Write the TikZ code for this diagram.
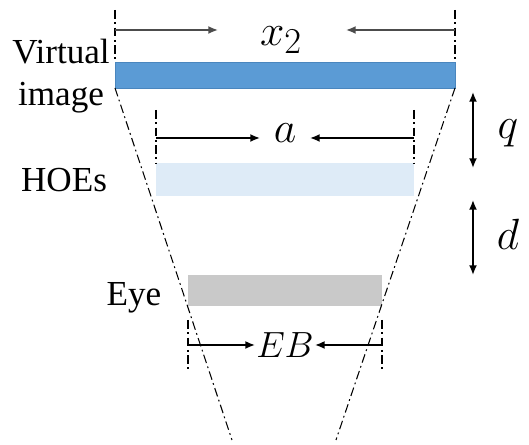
\documentclass[tikz,border=0pt]{standalone}
\usepackage{fontspec}
\setmainfont{Liberation Serif}
\usetikzlibrary{arrows.meta}
\definecolor{vimgblue}{HTML}{5B9BD5}
\definecolor{vimgedge}{HTML}{4A86BE}
\definecolor{hoeblue}{HTML}{DEEBF7}
\definecolor{eyegray}{HTML}{C9C9C9}
\tikzset{
  guide/.style={line width=0.6pt, dash pattern=on 5pt off 2pt on 1pt off 2pt},
  dimarrow/.style={-{Latex[length=5.5pt, width=4.5pt]}, line width=0.9pt},
  gaparrow/.style={{Latex[length=5.5pt, width=4.5pt]}-{Latex[length=5.5pt, width=4.5pt]}, line width=0.9pt},
  lbl/.style={font=\rmfamily\fontsize{20}{24}\selectfont, align=center, inner sep=0pt},
  mlbl/.style={font=\fontsize{30}{33}\selectfont, inner sep=0pt},
}
\begin{document}
\begin{tikzpicture}[x=0.02cm, y=-0.02cm]
        \useasboundingbox (0,0) rectangle (529,445);

        % Bars
        \coordinate (vTL) at (115,62);  \coordinate (vBR) at (455,88);
        \coordinate (hTL) at (156,163); \coordinate (hBR) at (414,196);
        \coordinate (eTL) at (188,275); \coordinate (eBR) at (382,306);
        \filldraw[fill=vimgblue, draw=vimgedge, line width=0.5pt] (vTL) rectangle (vBR);
        \fill[hoeblue] (hTL) rectangle (hBR);
        \fill[eyegray] (eTL) rectangle (eBR);

        % Side labels
        \node[lbl] (vlab) at (61,76) {Virtual\\image};
        \node[lbl] (hlab) at (64,180) {HOEs};
        \node[lbl] (elab) at (134,298) {Eye};

        % Field lines
        \coordinate (vBL) at (115,88);  \coordinate (vTR) at (455,62);
        \coordinate (fL) at (232,440);  \coordinate (fR) at (336,440);
        \draw[guide] (vBL) -- (fL);
        \draw[guide] (vBR) -- (fR);

        % Width x_2
        \coordinate (x2a) at (115,10); \coordinate (x2b) at (455,10);
        \draw[guide] (x2a) -- (vTL);
        \draw[guide] (x2b) -- (vTR);
        \node[mlbl] (x2) at (281,40) {$x_2$};
        \coordinate (x2L) at (115,30); \coordinate (x2R) at (455,30);
        \coordinate (x2Lt) at (218,30); \coordinate (x2Rt) at (346,30);
        \draw[dimarrow, draw=black!70, fill=black!70] (x2L) -- (x2Lt);
        \draw[dimarrow, draw=black!70, fill=black!70] (x2R) -- (x2Rt);

        % Width a
        \coordinate (aL0) at (156,110); \coordinate (aR0) at (414,110);
        \draw[guide] (aL0) -- (hTL);
        \draw[guide] (aR0) -- (hTL -| hBR);
        \node[mlbl] (a) at (285,133) {$a$};
        \coordinate (aL) at (156,138); \coordinate (aR) at (414,138);
        \coordinate (aLt) at (260,138); \coordinate (aRt) at (310,138);
        \draw[dimarrow] (aL) -- (aLt);
        \draw[dimarrow] (aR) -- (aRt);

        % Eye box EB
        \coordinate (ebL0) at (188,320); \coordinate (ebL1) at (188,372);
        \coordinate (ebR0) at (382,320); \coordinate (ebR1) at (382,372);
        \draw[guide] (ebL0) -- (ebL1);
        \draw[guide] (ebR0) -- (ebR1);
        \node[font=\fontsize{20}{24}\selectfont, inner sep=0.5pt] (eb) at (285,345) {$EB$};
        \coordinate (ebL) at (188,345); \coordinate (ebR) at (382,345);
        \draw[dimarrow] (ebL) -- (eb.west);
        \draw[dimarrow] (ebR) -- (eb.east);

        % Gaps q and d
        \coordinate (q0) at (473,92);  \coordinate (q1) at (473,168);
        \coordinate (d0) at (473,200); \coordinate (d1) at (473,275);
        \draw[gaparrow] (q0) -- (q1);
        \draw[gaparrow] (d0) -- (d1);
        \node[mlbl] (q) at (508,133) {$q$};
        \node[mlbl] (d) at (508,234) {$d$};
    \end{tikzpicture}
\end{document}
